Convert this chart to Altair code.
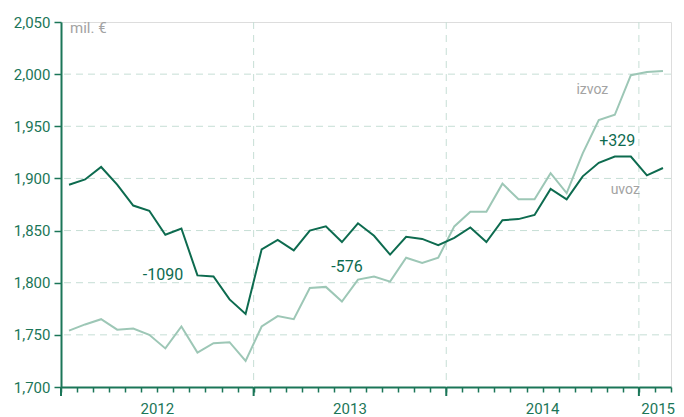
import altair as alt
import pandas as pd

# month index 0 = Jan 2012 ... 37 = Feb 2015
month_idx = list(range(38))

uvoz = [1894, 1899, 1911, 1894, 1874, 1869, 1846, 1852, 1807, 1806, 1784, 1770,
        1832, 1841, 1831, 1850, 1854, 1839, 1857, 1845, 1827, 1844, 1842, 1836,
        1843, 1853, 1839, 1860, 1861, 1865, 1890, 1880, 1902, 1915, 1921, 1921,
        1903, 1910]

izvoz = [1754, 1760, 1765, 1755, 1756, 1750, 1737, 1758, 1733, 1742, 1743, 1725,
         1758, 1768, 1765, 1795, 1796, 1782, 1803, 1806, 1801, 1824, 1819, 1824,
         1854, 1868, 1868, 1895, 1880, 1880, 1905, 1886, 1924, 1956, 1961, 1999,
         2002, 2003]

y_ticks = [1700, 1750, 1800, 1850, 1900, 1950, 2000, 2050]
grid_y = [1750, 1800, 1850, 1900, 1950, 2000]
year_starts = [12, 24, 36]
major_ticks = [0, 12, 24, 36]
year_labels = ["2012", "2013", "2014", "2015"]
year_label_pos = [6, 18, 30, 38.25]
year_label_align = ["center", "center", "center", "right"]

ann_text = ["-1090", "-576", "+329"]
ann_x = [6.35, 17.82, 34.65]
ann_y = [1807, 1815, 1936]

series_text = ["izvoz", "uvoz"]
series_x = [33.1, 35.15]
series_y = [1985, 1889]

DARK = "#0d6b4f"
LIGHT = "#9dc7b6"
AXIS = "#1b7658"
GRID = "#c6ded5"
GRAY = "#a3a3a3"
FONT = "Roboto"

df_u = pd.DataFrame({"m": [i + 0.5 for i in month_idx], "v": uvoz})
df_i = pd.DataFrame({"m": [i + 0.5 for i in month_idx], "v": izvoz})
df_gy = pd.DataFrame({"g": grid_y})
df_gx = pd.DataFrame({"x": year_starts})
df_mt = pd.DataFrame({"x": major_ticks})
df_yl = pd.DataFrame({"x": year_label_pos, "t": year_labels, "a": year_label_align})
df_ann = pd.DataFrame({"x": ann_x, "y": ann_y, "t": ann_text})
df_ser = pd.DataFrame({"x": series_x, "y": series_y, "t": series_text})

xs = alt.Scale(domain=[0, 38], nice=False, zero=False)
ys = alt.Scale(domain=[1700, 2050], nice=False, zero=False)

x_axis = alt.Axis(values=list(range(39)), labels=False, tickSize=5, tickWidth=1.5,
                  grid=False, title=None, domainWidth=2, domainColor=AXIS, tickColor=AXIS)
y_axis = alt.Axis(values=y_ticks, format=",.0f", grid=False, title=None, tickSize=7,
                  tickWidth=1.5, labelPadding=4, labelFont=FONT, labelFontSize=15,
                  labelColor=AXIS, domainWidth=2, domainColor=AXIS, tickColor=AXIS)


def X(field):
    return alt.X(field, scale=xs, axis=x_axis)


def Y(field):
    return alt.Y(field, scale=ys, axis=y_axis)


hgrid = alt.Chart(df_gy).mark_rule(color=GRID, strokeDash=[7, 5], strokeWidth=1).encode(
    y=Y("g:Q")
)
vgrid = alt.Chart(df_gx).mark_rule(color=GRID, strokeDash=[7, 6], strokeWidth=1).encode(
    x=X("x:Q")
)
line_i = alt.Chart(df_i).mark_line(color=LIGHT, strokeWidth=2).encode(
    x=X("m:Q"), y=Y("v:Q")
)
line_u = alt.Chart(df_u).mark_line(color=DARK, strokeWidth=2).encode(
    x=X("m:Q"), y=Y("v:Q")
)
maj = alt.Chart(df_mt).mark_rule(color=AXIS, strokeWidth=2).encode(
    x=X("x:Q"), y=alt.value(365), y2=alt.value(374)
)
yl_c = alt.Chart(df_yl[df_yl["a"] == "center"]).mark_text(
    font=FONT, fontSize=15, color=AXIS, baseline="alphabetic", align="center").encode(
    x=X("x:Q"), y=alt.value(392), text="t:N"
)
yl_r = alt.Chart(df_yl[df_yl["a"] == "right"]).mark_text(
    font=FONT, fontSize=15, color=AXIS, baseline="alphabetic", align="right").encode(
    x=X("x:Q"), y=alt.value(392), text="t:N"
)
ann = alt.Chart(df_ann).mark_text(font=FONT, fontSize=16, color=DARK, baseline="middle").encode(
    x=X("x:Q"), y=Y("y:Q"), text="t:N"
)
ser = alt.Chart(df_ser).mark_text(font=FONT, fontSize=14, color=GRAY, baseline="middle").encode(
    x=X("x:Q"), y=Y("y:Q"), text="t:N"
)
unit = alt.Chart(df_yl.head(1)).mark_text(font=FONT, fontSize=15, color=GRAY, align="left",
                                           baseline="alphabetic").encode(
    x=alt.value(9), y=alt.value(11), text=alt.value("mil. €")
)

chart = alt.layer(hgrid, vgrid, line_i, line_u, maj, yl_c, yl_r, ann, ser, unit).properties(
    width=610, height=365,
    autosize=alt.AutoSizeParams(type="none"),
    padding={"left": 53, "top": 14, "right": 5, "bottom": 30},
).configure_view(stroke=None).configure(background="white")

chart.save("out.html", embed_options={"renderer": "svg", "actions": False})
